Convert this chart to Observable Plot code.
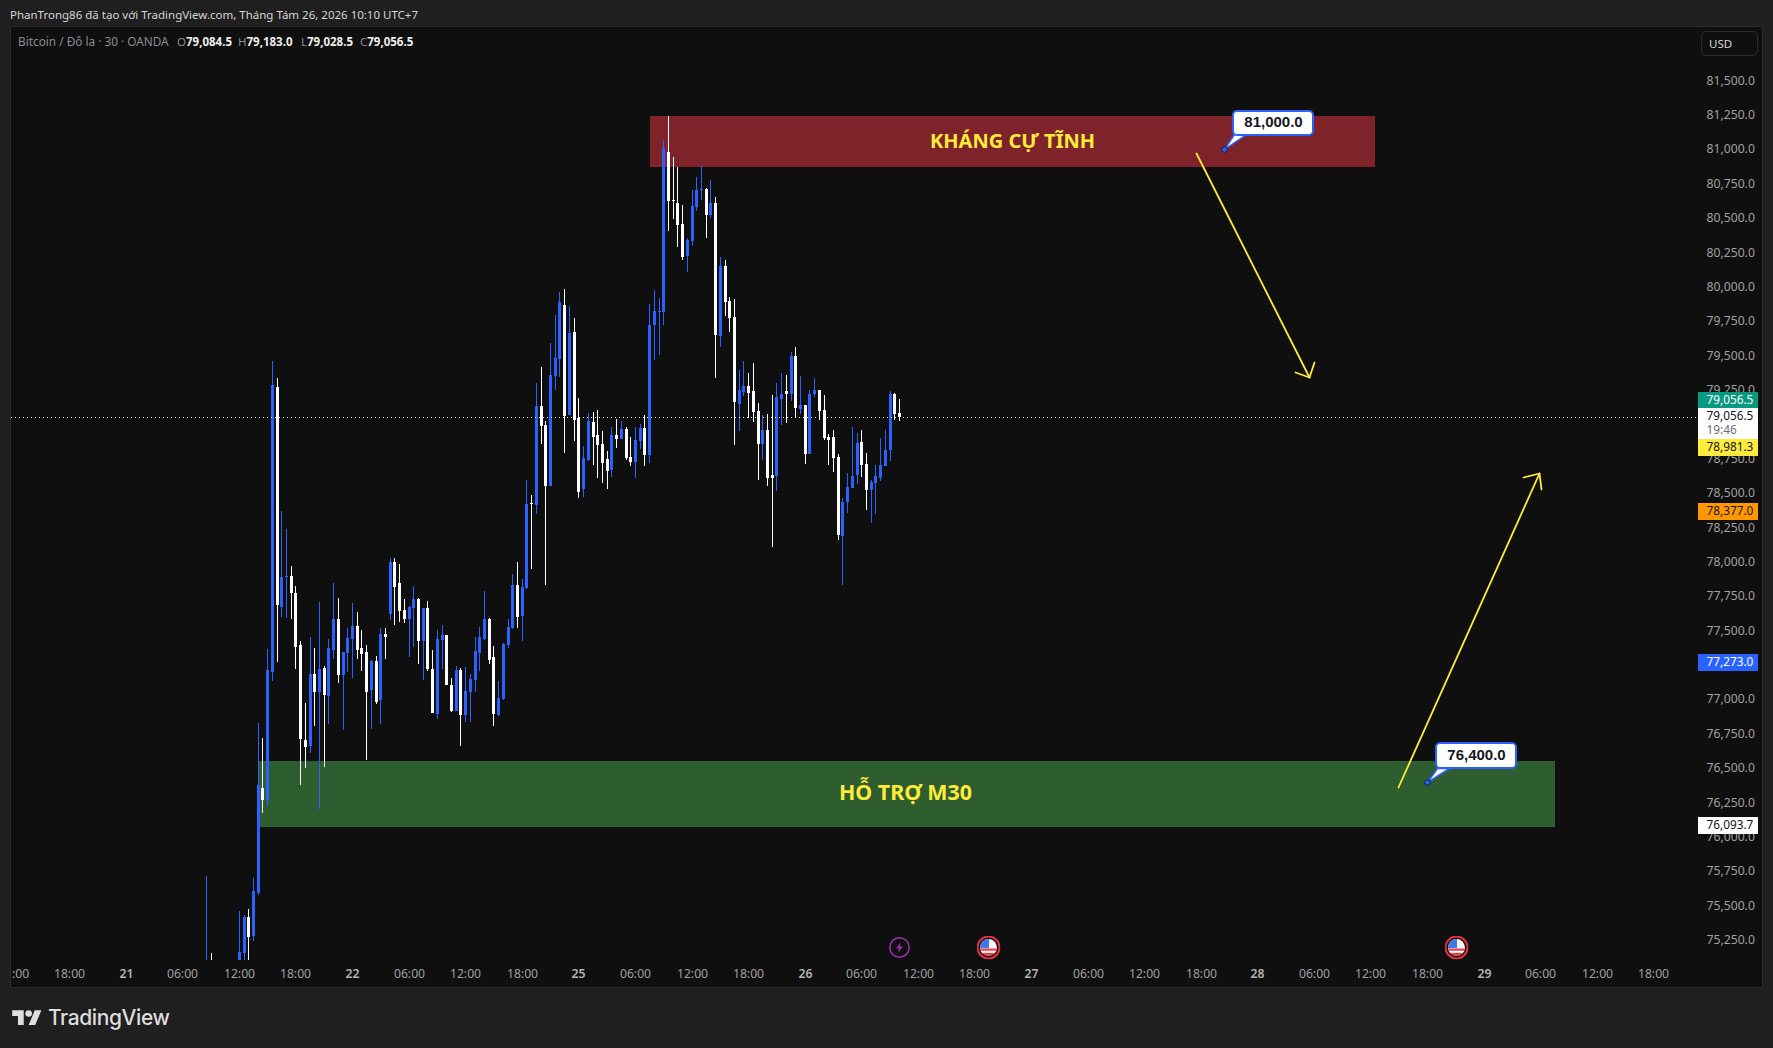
<!DOCTYPE html>
<html><head><meta charset="utf-8">
<script src="https://cdn.jsdelivr.net/npm/d3@7"></script>
<script src="https://cdn.jsdelivr.net/npm/@observablehq/plot@0.6"></script>
<style>
html,body{margin:0;padding:0;background:#1f1f1f;width:1773px;height:1048px;overflow:hidden;font-family:"Noto Sans",sans-serif}
.a{position:absolute;white-space:nowrap}
#pane{position:absolute;left:10px;top:26px;width:1751px;height:960px;border:1px solid #2c2c2c;background:#0f0f0f}
#pane svg{display:block}
.v{font-size:11.5px;font-weight:700;color:#eee}
</style></head><body>
<div class="a" style="left:10px;top:6px;font-size:11.5px;line-height:17px;color:#d6d6d6">PhanTrong86 đã tạo với TradingView.com, Tháng Tám 26, 2026 10:10 UTC+7</div>
<div id="pane"></div>
<div class="a" style="left:18px;top:33px;font-size:11.8px;line-height:17px;color:#8a8c92">Bitcoin / Đô la · 30 · OANDA</div>
<div class="a" style="left:177px;top:33px;font-size:11.5px;line-height:17px;color:#8a8c92">O<span class="v">79,084.5</span></div>
<div class="a" style="left:238px;top:33px;font-size:11.5px;line-height:17px;color:#8a8c92">H<span class="v">79,183.0</span></div>
<div class="a" style="left:301px;top:33px;font-size:11.5px;line-height:17px;color:#8a8c92">L<span class="v">79,028.5</span></div>
<div class="a" style="left:360px;top:33px;font-size:11.5px;line-height:17px;color:#8a8c92">C<span class="v">79,056.5</span></div>
<div class="a" style="left:1701px;top:31px;width:57px;height:25px;box-sizing:border-box;border:1px solid #2c2c2c;border-radius:5px;color:#d6d6d6;font-size:11.5px;line-height:24px;padding-left:7px">USD</div>
<svg class="a" style="left:12px;top:1007px" width="30" height="23" viewBox="0 0 36 28"><path fill="#dedede" d="M14 22H7V11H0V4h14v18zM28 22h-8l7.5-18h8L28 22z"/><circle fill="#dedede" cx="20" cy="8" r="4"/></svg>
<div class="a" style="left:48px;top:1003px;font-family:Inter,sans-serif;font-size:21px;line-height:30px;font-weight:500;letter-spacing:-0.4px;color:#dedede">TradingView</div>
<script>
const barIds = [17, 18].concat(d3.range(24, 165));
const opens = [74950,75050,75000,75153,75417,75281,75592,76355,76269,77201,79273,77673,77890,77898,77774,77397,76705,76661,77186,77056,77228,77026,77361,77584,77177,77338,77438,77533,77373,77346,77070,77281,76996,77477,77622,77999,77848,77652,77584,77664,77729,77427,77664,77222,76895,77432,77468,77106,76919,77216,76886,77054,77141,77337,77439,77585,77308,76887,77003,77396,77519,77832,77606,77810,78429,78414,79134,78996,78552,79352,79476,79868,79069,79672,79047,78530,78741,79018,78923,78858,78749,78669,78923,78894,78967,78763,78727,78879,78974,78778,79723,79818,79818,80982,80633,80611,80458,80226,80335,80582,80705,80713,80524,80611,79644,80153,79898,79782,79149,79236,79280,79243,79098,78858,78960,78633,78625,79185,79243,79222,79498,79113,79142,78785,79222,79251,79105,78909,78909,78763,78189,78436,78538,78633,78873,78713,78524,78574,78611,78698,78814,79222,79084.5];
const highs = [75717,75156,75462,75429,75477,75702,76830,76720,77367,79463,79338,78370,78240,77970,77824,77427,76975,77453,77373,77709,77243,77438,77848,77738,77346,77516,77703,77637,77507,77397,77287,77317,77516,77516,78029,78029,77985,77729,77682,77824,77738,77664,77717,77361,77507,77542,77468,77156,77243,77228,77237,77185,77454,77526,77788,77592,77388,77134,77410,77585,77912,78000,77875,78596,78487,79301,79418,79025,79592,79796,79963,79985,79861,79774,79192,78843,79083,79090,79105,78952,78807,78981,79040,79025,78981,78909,78981,79003,79069,79876,79978,79919,81069,81244,80945,80873,80596,80356,80705,80800,80880,80720,80778,80655,80218,80196,79927,79913,79396,79462,79374,79447,79156,79069,79076,79214,79302,79374,79360,79527,79563,79352,79142,79251,79338,79251,79214,78931,78960,78785,78465,78647,78982,78938,78960,78793,78596,78705,78902,78960,79243,79229,79183];
const lows = [74800,74900,74950,75050,75090,75245,75575,76171,76225,77136,77269,77599,77590,77584,77222,76379,76504,76610,76806,76204,76509,76821,77293,77121,76780,77201,77156,77293,77207,76560,76785,76964,76821,77293,77578,77542,77563,77557,77308,77382,77257,77142,77207,76901,76857,77222,77106,76910,76919,76661,76836,76836,77054,77207,77432,77257,76807,76879,76996,77374,77512,77519,77425,77803,77948,78351,78858,77832,78552,79250,79345,78792,79069,78879,78465,78472,78734,78705,78610,78574,78530,78618,78829,78894,78741,78698,78610,78821,78698,78719,79468,79505,79724,80407,80495,80291,80196,80109,80298,80553,80633,80356,80502,79338,79564,79789,79673,78851,78953,79207,79047,79018,78596,78742,78553,78109,78516,78996,79011,79171,79047,79076,78712,78785,79200,79032,78887,78705,78654,78160,77833,78356,78538,78567,78618,78378,78283,78349,78589,78698,78734,79032,79028.5];
const closes = [75050,74950,75165,75417,75275,75607,76379,76269,77216,79288,77688,77890,77898,77774,77382,76711,76655,77186,77056,77222,77032,77373,77584,77177,77346,77447,77533,77361,77332,77056,77281,76978,77477,77456,77999,77821,77643,77584,77673,77729,77427,77664,77222,76901,77438,77468,77106,76919,77216,76886,77062,77148,77352,77454,77585,77286,76894,77010,77403,77526,77832,77599,77817,78421,78421,79134,78989,78552,79359,79483,79890,79061,79665,79032,78509,78756,79025,78909,78850,78720,78661,78923,78894,78967,78756,78727,78887,78974,78778,79723,79825,79825,81011,80626,80626,80451,80218,80342,80589,80705,80713,80524,80611,79651,80153,79891,79775,79163,79251,79280,79229,79091,78858,78960,78611,78611,79200,79222,79222,79498,79120,79142,78785,79222,79251,79098,78902,78887,78756,78196,78436,78545,78625,78865,78705,78524,78582,78625,78705,78814,79222,79076,79056.5];

const hourTicks = [-12,12,24,36,60,72,84,108,120,132,156,168,180,204,216,228,252,264,276,300,312,324];
const hourLabels = ["18:00","06:00","12:00","18:00","06:00","12:00","18:00","06:00","12:00","18:00","06:00","12:00","18:00","06:00","12:00","18:00","06:00","12:00","18:00","06:00","12:00","18:00"];
const dayTicks = [0,48,96,144,192,240,288];
const dayLabels = ["21","22","25","26","27","28","29"];
const priceTicks = [81500,81250,81000,80750,80500,80250,80000,79750,79500,79250,78750,78500,78250,78000,77750,77500,77000,76750,76500,76250,76000,75750,75500,75250];

const lastPrice = 79056.5;
const zones = [
  {x1:111.2,x2:265,y1:80873,y2:81244,fill:"#7f232b",label:"KHÁNG CỰ TĨNH",lx:188,ly:81062,size:20},
  {x1:28.1,x2:303.1,y1:76075,y2:76552,fill:"#2e5e2f",label:"HỖ TRỢ M30",lx:165.3,ly:76320,size:21.4}
];
const arrowDown = {shaft:[[226.9,80972],[251,79347]], head:[[248,79384],[251,79347],[252.1,79456]]};
const arrowUp = {shaft:[[269.9,76365],[299.7,78647]], head:[[296.4,78618],[299.7,78647],[300.2,78534]]};
const callouts = [
  {label:"81,000.0",px:233,py:81000,bx1:234.9,bx2:251.8,by1:81105,by2:81282,sx1:235.1,sx2:237.6,sy:81110,tx:243.3,ty:81199},
  {label:"76,400.0",px:276,py:76400,bx1:277.9,bx2:294.9,by1:76499,by2:76681,sx1:278.1,sx2:280.6,sy:76505,tx:286.3,ty:76596}
];
const tagLeft = 333.5, tagRight = 346.2, tagTextX = 335.1;
const tags = [
  {y:79181,h:17,bg:"#089981",fg:"#ffffff",text:"79,056.5",ty:79181,w:600},
  {y:79007,h:31,bg:"#ffffff",fg:"#131722",text:"79,056.5",ty:79063,w:400},
  {y:78834,h:17,bg:"#ffeb3b",fg:"#131722",text:"78,981.3",ty:78834,w:400},
  {y:78372,h:17,bg:"#ff9800",fg:"#131722",text:"78,377.0",ty:78372,w:400},
  {y:77269,h:17,bg:"#2962ff",fg:"#ffffff",text:"77,273.0",ty:77269,w:500},
  {y:76090,h:17,bg:"#ffffff",fg:"#131722",text:"76,093.7",ty:76090,w:400}
];
const timer = {text:"19:46",y:78959};
const eventY = 75200;
const flagEvents = [182.9,282.1];
const boltEvents = [164.1];

const flagSvg = `<svg xmlns="http://www.w3.org/2000/svg" width="24" height="24"><defs><clipPath id="c"><circle cx="12" cy="12" r="8.5"/></clipPath></defs><circle cx="12" cy="12" r="11" fill="#0f0f0f" stroke="#e5303f" stroke-width="2"/><g clip-path="url(#c)"><rect width="24" height="24" fill="#f4f4f4"/><rect y="13" width="24" height="2.2" fill="#e5404a"/><rect y="17.4" width="24" height="6" fill="#e5404a"/><rect x="3" y="3" width="9.5" height="9.5" fill="#3f78e6"/></g></svg>`;
const boltSvg = `<svg xmlns="http://www.w3.org/2000/svg" width="24" height="24"><circle cx="12" cy="12" r="9.7" fill="#0f0f0f" stroke="#9c2fb0" stroke-width="1.5"/><path d="M13.4 6.5 8.6 13h3l-1 4.6 4.8-6.5h-3z" fill="#9c2fb0"/></svg>`;
const uri = s => "data:image/svg+xml," + encodeURIComponent(s);

const bars = barIds.map((id,i)=>({id,o:opens[i],h:highs[i],l:lows[i],c:closes[i]}));
const barColor = d => d.c >= d.o ? "#2962ff" : "#ffffff";
const toPts = a => a.map(([x,y])=>({x,y}));
const yellow = "#ffeb3b";
const blue = "#2962ff";
const chartFont = "'Noto Sans',sans-serif";

const marks = [
  Plot.rect(zones,{x1:"x1",x2:"x2",y1:"y1",y2:"y2",fill:"fill"}),
  Plot.ruleX(bars,{x:"id",y1:"l",y2:"h",stroke:barColor,strokeWidth:1,clip:true}),
  Plot.ruleX(bars,{x:"id",y1:"o",y2:"c",stroke:barColor,strokeWidth:3,strokeLinecap:"butt",clip:true}),
  Plot.ruleY([lastPrice],{x1:-24.33,x2:333,stroke:"#ffffff",strokeDasharray:"1,3",strokeWidth:1}),
  Plot.text(zones,{x:"lx",y:"ly",text:"label",fill:yellow,fontSize:"size",fontWeight:700}),
  ...[arrowDown,arrowUp].flatMap(a=>[
    Plot.line(toPts(a.shaft),{x:"x",y:"y",stroke:yellow,strokeWidth:1.8}),
    Plot.line(toPts(a.head),{x:"x",y:"y",stroke:yellow,strokeWidth:1.8})
  ]),
  ...callouts.flatMap(c=>[
    Plot.line([{x:c.px,y:c.py},{x:c.sx1,y:c.sy},{x:c.sx2,y:c.sy},{x:c.px,y:c.py}],{x:"x",y:"y",stroke:blue,strokeWidth:1.5,fill:"#ffffff"}),
    Plot.rect([c],{x1:"bx1",x2:"bx2",y1:"by1",y2:"by2",fill:"#ffffff",stroke:blue,strokeWidth:2,rx:4}),
    Plot.text([c],{x:"tx",y:"ty",text:"label",fill:"#131722",fontFamily:"'Liberation Sans',sans-serif",fontSize:15,fontWeight:700}),
    Plot.dot([c],{x:"px",y:"py",r:2.8,fill:blue,stroke:"#0d1b3e",strokeWidth:1})
  ]),
  Plot.image(flagEvents,{x:d=>d,y:()=>eventY,src:uri(flagSvg),width:24,height:24}),
  Plot.image(boltEvents,{x:d=>d,y:()=>eventY,src:uri(boltSvg),width:24,height:24}),
  Plot.axisX({ticks:hourTicks,tickFormat:d=>hourLabels[hourTicks.indexOf(d)],tickSize:0,tickPadding:9,label:null,fill:"#a0a0a0",fontSize:12.2}),
  Plot.axisX({ticks:dayTicks,tickFormat:d=>dayLabels[dayTicks.indexOf(d)],tickSize:0,tickPadding:9,label:null,fill:"#b4b4b4",fontSize:12.2,fontWeight:600}),
  Plot.text([":00"],{x:()=>-22.4,frameAnchor:"bottom",dy:17,text:d=>d,fill:"#a0a0a0",fontSize:12.2}),
  Plot.axisY({anchor:"right",ticks:priceTicks,tickFormat:d=>d3.format(",.1f")(d),tickSize:0,tickPadding:10,label:null,fill:"#a0a0a0",fontSize:12.2}),
  Plot.ruleY(tags,{y:"y",x1:tagLeft,x2:tagRight,stroke:"bg",strokeWidth:"h"}),
  Plot.text(tags,{x:tagTextX,y:"ty",text:"text",fill:"fg",fontWeight:"w",fontSize:11.8,textAnchor:"start"}),
  Plot.text([timer],{x:tagTextX,y:"y",text:"text",fill:"#6a6d78",fontSize:11.8,textAnchor:"start"})
];

const chart = Plot.plot({
  width:1751,height:960,marginLeft:0,marginRight:66,marginTop:0,marginBottom:27,
  style:{background:"#0f0f0f",fontFamily:chartFont,overflow:"hidden"},
  x:{type:"linear",domain:[-24.33,333.04],round:true,axis:null},
  y:{type:"linear",domain:[75105,81890.5],round:true,axis:null},
  stroke:{type:"identity"},fill:{type:"identity"},
  marks
});
document.getElementById("pane").appendChild(chart);
</script>
</body></html>
